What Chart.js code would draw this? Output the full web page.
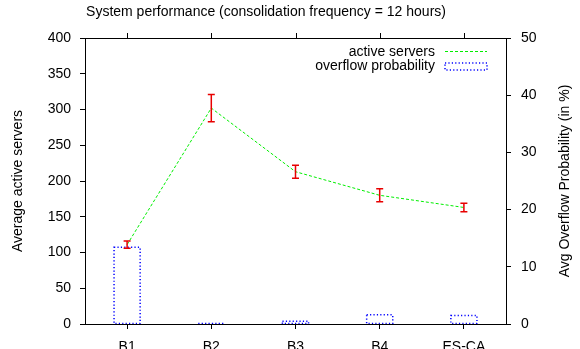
<!DOCTYPE html>
<html>
<head>
<meta charset="utf-8">
<script src="https://cdn.jsdelivr.net/npm/chart.js@4/dist/chart.umd.min.js"></script>
<style>
    body { margin: 0; background: #ffffff; }
    #graph1 { display: block; }
</style>
</head>
<body>
<canvas id="graph1" width="580" height="349"></canvas>
<script>
// Data (START) --------------------------------------------------
let categories = ["B1", "B2", "B3", "B4", "ES-CA"];
let activeServers = [111, 302, 213, 180, 163];
let activeServersErr = [5, 19, 9, 9, 6];
let overflowProb = [13.4, 0.1, 0.5, 1.6, 1.5];

let titleText = "System performance (consolidation frequency = 12 hours)";
let leftTitle = "Average active servers";
let rightTitle = "Avg Overflow Probability (in %)";
let legendLabels = ["active servers", "overflow probability"];

// Font used everywhere (gnuplot look)
let fontFamily = "'Liberation Sans', Arial, sans-serif";
Chart.defaults.font.family = fontFamily;
Chart.defaults.font.size = 14;
Chart.defaults.color = "#000000";


/*
Plugin that draws the gnuplot parts Chart.js has no option for:
dotted bar outlines, error bars, frame with top ticks, titles and the legend
*/
let gnuplotParts = {
    id: "gnuplotParts",
    afterDatasetsDraw(chart) {
        let ctx = chart.ctx;
        let yScale = chart.scales.y;

        ctx.save();

        // Dotted outlines of the overflow bars
        let barMeta = chart.getDatasetMeta(0);
        ctx.strokeStyle = "#0000ff";
        ctx.lineWidth = 1.5;
        ctx.setLineDash([1.2, 2.2]);
        barMeta.data.forEach(function (bar) {
            let p = bar.getProps(["x", "y", "base", "width"], true);
            ctx.strokeRect(p.x - p.width / 2, p.y, p.width, p.base - p.y);
        });
        ctx.setLineDash([]);

        // Error bars on the active servers line
        let lineMeta = chart.getDatasetMeta(1);
        ctx.strokeStyle = "#e80000";
        ctx.lineWidth = 1.5;
        lineMeta.data.forEach(function (point, i) {
            let x = point.x;
            let yTop = yScale.getPixelForValue(activeServers[i] + activeServersErr[i]);
            let yBottom = yScale.getPixelForValue(activeServers[i] - activeServersErr[i]);
            ctx.beginPath();
            ctx.moveTo(x, yTop);
            ctx.lineTo(x, yBottom);
            ctx.moveTo(x - 3.5, yTop);
            ctx.lineTo(x + 3.5, yTop);
            ctx.moveTo(x - 3.5, yBottom);
            ctx.lineTo(x + 3.5, yBottom);
            ctx.stroke();
        });

        ctx.restore();
    },
    afterDraw(chart) {
        let ctx = chart.ctx;
        let area = chart.chartArea;
        let xScale = chart.scales.x;

        ctx.save();

        // Frame around the plot
        ctx.strokeStyle = "#000000";
        ctx.lineWidth = 1;
        ctx.strokeRect(Math.round(area.left) + 0.5, Math.round(area.top) + 0.5,
            Math.round(area.right - area.left), Math.round(area.bottom - area.top));

        // Mirrored x ticks on the top border
        ctx.beginPath();
        xScale.ticks.forEach(function (tick, i) {
            let x = Math.round(xScale.getPixelForTick(i)) + 0.5;
            ctx.moveTo(x, area.top);
            ctx.lineTo(x, area.top - 5);
        });
        ctx.stroke();

        // Title
        ctx.fillStyle = "#000000";
        ctx.font = "14px " + fontFamily;
        ctx.textAlign = "center";
        ctx.textBaseline = "middle";
        ctx.fillText(titleText, 266, 12);

        // Axis titles
        ctx.save();
        ctx.translate(18, (area.top + area.bottom) / 2);
        ctx.rotate(-Math.PI / 2);
        ctx.fillText(leftTitle, 0, 0);
        ctx.restore();

        ctx.save();
        ctx.translate(565, (area.top + area.bottom) / 2);
        ctx.rotate(-Math.PI / 2);
        ctx.fillText(rightTitle, 0, 0);
        ctx.restore();

        // Legend (inside, top right)
        ctx.textAlign = "right";
        ctx.fillText(legendLabels[0], 435, 52);
        ctx.fillText(legendLabels[1], 435, 66);

        ctx.strokeStyle = "#00ee00";
        ctx.lineWidth = 1;
        ctx.setLineDash([3, 2]);
        ctx.beginPath();
        ctx.moveTo(445, 51.5);
        ctx.lineTo(487, 51.5);
        ctx.stroke();

        ctx.strokeStyle = "#0000ff";
        ctx.lineWidth = 1.5;
        ctx.setLineDash([1.2, 2.2]);
        ctx.strokeRect(445, 63, 42, 7);

        ctx.restore();
    }
};


// The Charts.js graph style
let dataGraph1 = {
    type: "bar",
    data: {
        labels: categories,
        datasets: [{
            type: "bar",
            label: legendLabels[1],
            data: overflowProb,
            yAxisID: "y2",
            backgroundColor: "rgba(0,0,0,0)",
            borderWidth: 0,
            categoryPercentage: 1,
            barPercentage: 0.31,
            order: 2
        }, {
            type: "line",
            label: legendLabels[0],
            data: activeServers,
            yAxisID: "y",
            borderColor: "#00ee00",
            borderWidth: 1,
            borderDash: [3, 2],
            pointRadius: 0,
            tension: 0,
            fill: false,
            order: 1
        }]
    },
    options: {
        responsive: false,
        animation: false,
        devicePixelRatio: 1,
        layout: { padding: { top: 38, left: 0, right: 0, bottom: 0 } },
        plugins: {
            legend: { display: false },
            title: { display: false },
            tooltip: { enabled: false }
        },
        scales: {
            x: {
                offset: true,
                grid: { offset: false, drawOnChartArea: false, tickLength: 5, color: "#000000" },
                border: { color: "#000000", width: 1 },
                ticks: { padding: 10, maxRotation: 0 },
                afterFit: function (scale) { scale.height = 25; }
            },
            y: {
                position: "left",
                min: 0,
                max: 400,
                ticks: { stepSize: 50, padding: 9 },
                grid: { drawOnChartArea: false, tickLength: 5, color: "#000000" },
                border: { color: "#000000", width: 1 },
                afterFit: function (scale) { scale.width = 85; }
            },
            y2: {
                position: "right",
                min: 0,
                max: 50,
                ticks: { stepSize: 10, padding: 10 },
                grid: { drawOnChartArea: false, tickLength: 5, color: "#000000" },
                border: { color: "#000000", width: 1 },
                afterFit: function (scale) { scale.width = 74; }
            }
        }
    },
    plugins: [gnuplotParts]
};

// Get canvas and make chart
let canvas1 = document.getElementById("graph1").getContext("2d");
let chart1 = new Chart(canvas1, dataGraph1);
</script>
</body>
</html>
